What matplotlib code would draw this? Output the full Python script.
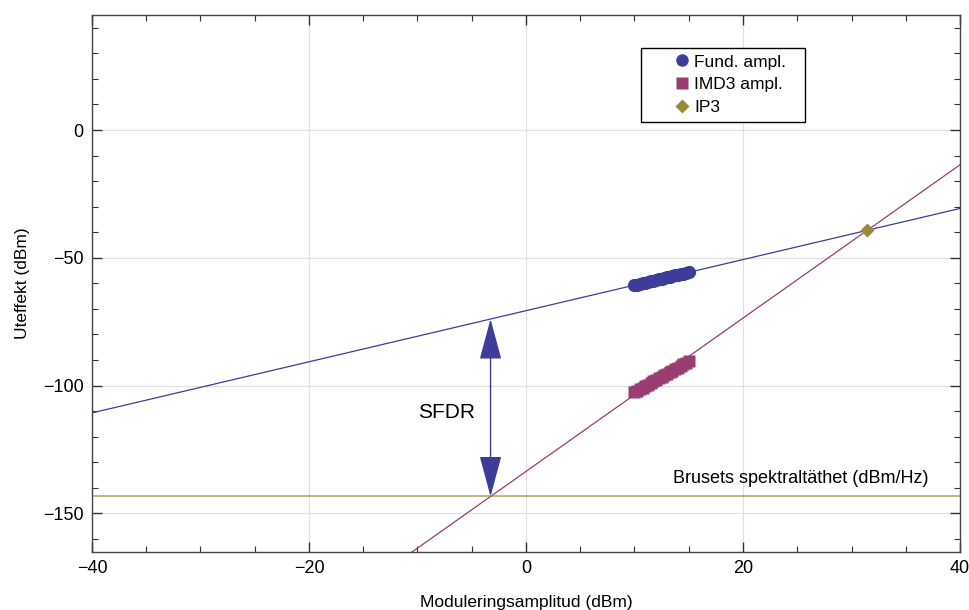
import numpy as np
import matplotlib.pyplot as plt
from matplotlib.ticker import MultipleLocator

plt.rcParams['font.family'] = ['Liberation Sans', 'DejaVu Sans']
plt.rcParams['axes.unicode_minus'] = True

# measured points (dBm)
p_in = [10.0, 10.25, 10.5, 10.75, 11.0, 11.25, 11.5, 11.75, 12.0, 12.25, 12.5,
        12.75, 13.0, 13.25, 13.5, 13.75, 14.0, 14.25, 14.5, 14.75, 15.0]
fund = [-60.7, -60.5, -60.2, -59.9, -59.7, -59.5, -59.2, -58.9, -58.7, -58.4, -58.2,
        -57.9, -57.7, -57.5, -57.2, -56.9, -56.7, -56.4, -56.2, -55.9, -55.7]
imd3 = [-102.6, -102.0, -101.4, -100.8, -100.3, -99.6, -99.0, -98.4, -97.9, -97.2, -96.6,
        -96.0, -95.4, -94.8, -94.2, -93.5, -93.0, -92.3, -91.6, -91.0, -90.3]

# fitted lines: slope 1 and slope 3
fund_icpt = -70.7
imd3_icpt = -133.6
ip3 = [31.45, -39.25]
noise = -143.4

c_fund = (0.24, 0.24, 0.6)
c_imd3 = (0.6, 0.24, 0.442)
c_ip3 = (0.6, 0.547, 0.24)

fig = plt.figure(figsize=(9.7, 6.1), dpi=100)
ax = fig.add_axes([0.0948, 0.0956, 0.8949, 0.8798])
ax.set_xlim(-40, 40)
ax.set_ylim(-165, 45)

xs = np.array(ax.get_xlim())
ax.plot(xs, xs + fund_icpt, color=c_fund, lw=0.9, zorder=2)
ax.plot(xs, 3 * xs + imd3_icpt, color=c_imd3, lw=0.9, zorder=2)
ax.axhline(noise, color=c_ip3, lw=1.1, alpha=0.8, zorder=2)

ax.plot(p_in, fund, 'o', color=c_fund, ms=9.5, mec='none', label='Fund. ampl.', zorder=3)
ax.plot(p_in, imd3, 's', color=c_imd3, ms=8, mec='none', label='IMD3 ampl.', zorder=3)
ax.plot([ip3[0]], [ip3[1]], 'D', color=c_ip3, ms=7, mec='none', label='IP3', zorder=4)

# SFDR arrow
x_sfdr = (noise - imd3_icpt) / 3
ax.annotate('', xy=(x_sfdr, x_sfdr + fund_icpt), xytext=(x_sfdr, noise),
            arrowprops=dict(arrowstyle='<|-|>,head_length=2.6,head_width=0.7',
                            mutation_scale=10, color=c_fund, lw=1,
                            shrinkA=0, shrinkB=0), zorder=5)
ax.text(-7.3, -110.7, 'SFDR', fontsize=15, ha='center', va='center')
ax.text(37.1, -139.6, 'Brusets spektraltäthet (dBm/Hz)', fontsize=13,
        ha='right', va='bottom')

ax.xaxis.set_major_locator(MultipleLocator(20))
ax.xaxis.set_minor_locator(MultipleLocator(5))
ax.yaxis.set_major_locator(MultipleLocator(50))
ax.yaxis.set_minor_locator(MultipleLocator(10))
ax.tick_params(which='both', direction='in', top=True, right=True,
               labelsize=13, color='#333333', pad=6)
ax.tick_params(which='major', length=7, width=1)
ax.tick_params(which='minor', length=4, width=0.8)
ax.grid(True, which='major', color='#e0e0e0', lw=0.9)
ax.set_axisbelow(True)
for s in ax.spines.values():
    s.set_color('#444444')
    s.set_linewidth(1)

ax.set_xlabel('Moduleringsamplitud (dBm)', fontsize=12.5, labelpad=13)
ax.set_ylabel('Uteffekt (dBm)', fontsize=12.5, labelpad=9)

leg = ax.legend(loc='upper left', bbox_to_anchor=(0.633, 0.0, 0.189, 0.938),
                mode='expand', fontsize=12.5,
                frameon=True, fancybox=False, edgecolor='black', framealpha=1,
                handlelength=4.0, handletextpad=-1.3, borderpad=0.35,
                labelspacing=0.45, borderaxespad=0)
leg.get_frame().set_linewidth(1)
for h, m in zip(leg.legend_handles, [9, 8, 7]):
    h.set_markersize(m)

fig.savefig('out.png', dpi=100)
